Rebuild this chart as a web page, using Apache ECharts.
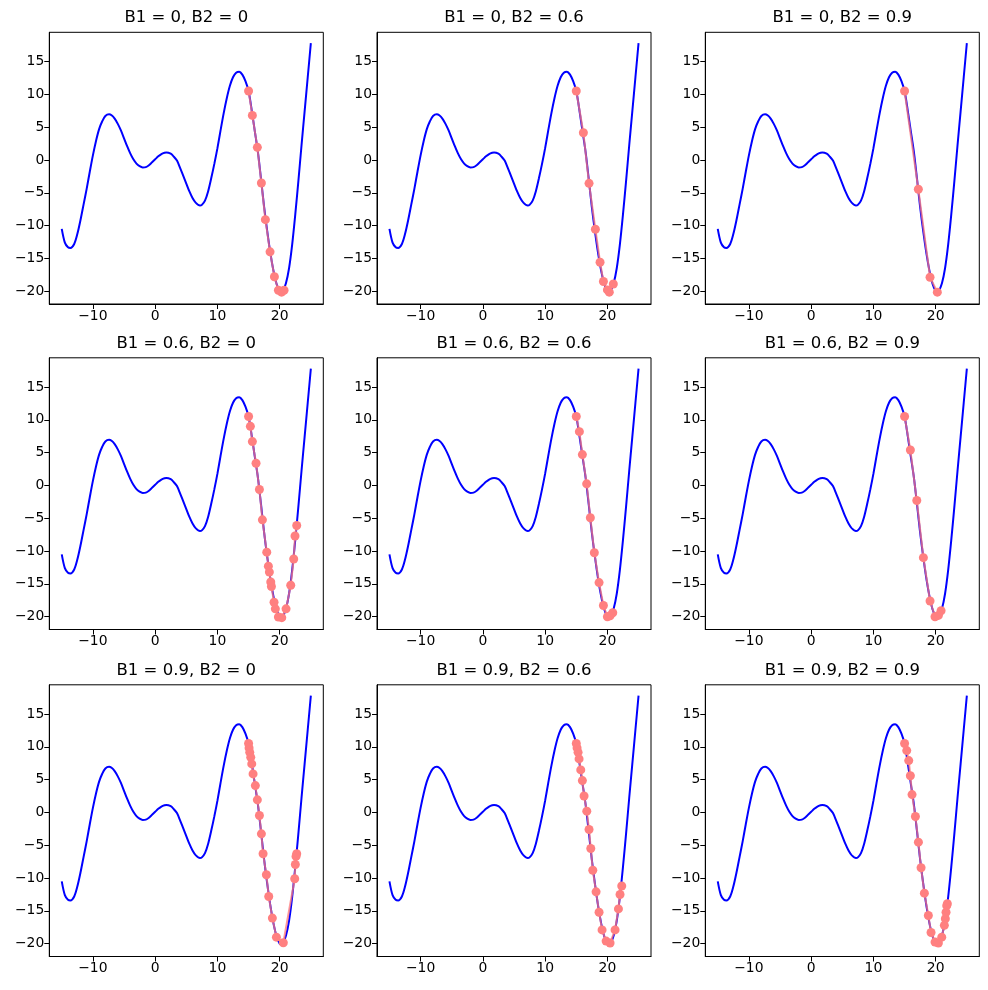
<!DOCTYPE html>
<html><head><meta charset="utf-8">
<script src="https://cdn.jsdelivr.net/npm/echarts@6/dist/echarts.min.js"></script>
<style>html,body{margin:0;padding:0;background:#fff}#c{width:988px;height:990px}</style>
</head><body><div id="c"></div>
<script>
// Blue curve
const curveX = [-15,-14.5,-14,-13.6,-13,-12.5,-12,-11.5,-11,-10.5,-10,-9.5,-9,-8.5,-8,-7.4,-7,-6.5,-6,-5.5,-5,-4.5,-4,-3.5,-3,-2.5,-2,-1.5,-1,-0.5,0,0.5,1,1.5,1.8,2.5,3,3.5,4,4.5,5,5.5,6,6.5,7.2,7.5,8,8.5,9,9.5,10,10.5,11,11.5,12,12.5,13,13.5,14,14.5,15,15.5,16,16.5,17,17.5,18,18.5,19,19.5,20,20.3,20.5,21,21.5,22,22.5,23,23.5,24,24.5,25];
const curveY = [-10.5,-12.6,-13.3,-13.4,-12.8,-11.3,-9.2,-6.8,-4.4,-1.8,0.7,2.9,4.7,5.9,6.7,6.95,6.8,6.3,5.5,4.5,3.3,2.1,1.0,0.1,-0.55,-0.95,-1.15,-1.1,-0.8,-0.35,0.1,0.55,0.9,1.1,1.15,0.95,0.5,-0.1,-1.2,-2.4,-3.6,-4.8,-5.8,-6.5,-6.95,-6.85,-6.2,-4.8,-2.8,-0.6,1.8,4.5,7.1,9.4,11.3,12.6,13.3,13.45,13.0,12.0,10.5,7.6,4.4,1.2,-2.9,-7.2,-10.9,-14.2,-16.9,-18.9,-20.0,-20.15,-20.0,-18.8,-16.5,-12.9,-8.3,-3.2,2.2,7.4,12.6,17.8];

const titles = ["B1 = 0, B2 = 0","B1 = 0, B2 = 0.6","B1 = 0, B2 = 0.9",
                "B1 = 0.6, B2 = 0","B1 = 0.6, B2 = 0.6","B1 = 0.6, B2 = 0.9",
                "B1 = 0.9, B2 = 0","B1 = 0.9, B2 = 0.6","B1 = 0.9, B2 = 0.9"];

// Optimizer trajectories
const path00X = [15.0,15.61,16.41,17.06,17.7,18.45,19.15,19.79,20.3,20.7];
const path00Y = [10.5,6.79,1.92,-3.52,-9.1,-14.0,-17.8,-19.85,-20.15,-19.85];
const path01X = [15.0,16.14,17.05,18.07,18.82,19.36,20.0,20.95,20.3];
const path01Y = [10.5,4.14,-3.56,-10.56,-15.58,-18.53,-19.8,-18.9,-20.15];
const path02X = [15.0,17.21,19.09,20.26];
const path02Y = [10.5,-4.47,-17.87,-20.15];
const path10X = [15.0,15.29,15.61,16.2,16.74,17.22,17.92,18.18,18.34,18.56,18.67,19.09,19.3,19.79,20.33,21.02,21.77,22.25,22.46,22.73];
const path10Y = [10.5,9.01,6.68,3.38,-0.62,-5.24,-10.17,-12.3,-13.2,-14.7,-15.4,-17.8,-18.8,-20.05,-20.15,-18.8,-15.2,-11.2,-7.7,-6.1];
const path11X = [15.0,15.5,15.98,16.67,17.26,17.9,18.66,19.36,20.0,20.43,20.86];
const path11Y = [10.5,8.2,4.7,0.24,-4.93,-10.26,-14.8,-18.3,-20.0,-19.85,-19.4];
const path12X = [15.0,15.93,16.96,18.02,19.09,19.89,20.43,20.86];
const path12Y = [10.5,5.4,-2.3,-11.0,-17.6,-20.0,-19.8,-19.1];
const path20X = [15.0,15.08,15.19,15.35,15.51,15.72,16.09,16.41,16.74,17.06,17.33,17.86,18.24,18.82,19.47,20.58,22.41,22.51,22.62,22.73];
const path20Y = [10.5,9.83,9.16,8.4,7.4,5.87,4.09,1.92,-0.47,-3.26,-6.3,-9.5,-12.8,-16.1,-19.0,-19.85,-10.1,-7.93,-6.7,-6.3];
const path21X = [15.0,15.13,15.29,15.45,15.72,15.98,16.25,16.69,17.05,17.33,17.65,18.18,18.66,19.14,19.79,20.43,21.23,21.77,22.03,22.3];
const path21Y = [10.5,9.83,9.16,8.16,6.48,4.85,2.5,0.2,-2.6,-5.5,-8.8,-12.1,-15.2,-17.9,-19.6,-19.9,-17.9,-14.7,-12.5,-11.2];
const path22X = [15.0,15.35,15.67,15.93,16.2,16.74,17.22,17.65,18.18,18.82,19.25,19.89,20.43,20.97,21.39,21.55,21.66,21.77,21.87];
const path22Y = [10.5,9.42,7.9,5.6,2.72,-0.62,-4.53,-8.43,-12.3,-15.7,-18.3,-19.75,-19.9,-19.0,-17.2,-16.2,-15.2,-14.2,-13.9];

const xTicks = [-10,0,10,20];
const yTicks = [-20,-15,-10,-5,0,5,10,15];

const paths = [[path00X,path00Y],[path01X,path01Y],[path02X,path02Y],
               [path10X,path10Y],[path11X,path11Y],[path12X,path12Y],
               [path20X,path20Y],[path21X,path21Y],[path22X,path22Y]];

const zip = (a,b) => a.map((v,i)=>[v,b[i]]);
const fmt = v => String(v).replace('-', '\u2212');
const FONT = 'DejaVu Sans';

const colLeft = [49.3, 377, 705.3];
const rowTop = [32.3, 357.8, 684.8];
const W = 274, H = 271.7;

const grids=[], xAxes=[], yAxes=[], series=[], title=[];
for (let i=0;i<9;i++){
  const r=Math.floor(i/3), c=i%3;
  grids.push({left:colLeft[c], top:rowTop[r], width:W, height:H, show:true, borderColor:'#000', borderWidth:1, backgroundColor:'transparent', containLabel:false});
  title.push({text:titles[i], left:colLeft[c]+W/2, top:rowTop[r]-23, textAlign:'center', padding:0,
    textStyle:{fontFamily:FONT, fontSize:16.5, fontWeight:'normal', color:'#000'}});
  xAxes.push({gridIndex:i, type:'value', min:-17, max:27,
    axisLine:{show:true, onZero:false, lineStyle:{color:'#000', width:1}},
    axisTick:{show:true, customValues:xTicks, length:5, lineStyle:{color:'#000', width:1}},
    axisLabel:{show:true, customValues:xTicks, formatter:fmt, color:'#000', fontSize:13.9, fontFamily:FONT, margin:5},
    splitLine:{show:false}, minorTick:{show:false}});
  yAxes.push({gridIndex:i, type:'value', min:-21.95, max:19.45,
    axisLine:{show:true, onZero:false, lineStyle:{color:'#000', width:1}},
    axisTick:{show:true, customValues:yTicks, length:5, lineStyle:{color:'#000', width:1}},
    axisLabel:{show:true, customValues:yTicks, formatter:fmt, color:'#000', fontSize:13.9, fontFamily:FONT, margin:5},
    splitLine:{show:false}, minorTick:{show:false}});
  series.push({type:'line', xAxisIndex:i, yAxisIndex:i, data:zip(curveX,curveY), showSymbol:false, symbol:'none',
    smooth:0.3, lineStyle:{color:'#0000ff', width:2}, clip:true, silent:true, z:2});
  series.push({type:'line', xAxisIndex:i, yAxisIndex:i, data:zip(paths[i][0],paths[i][1]),
    symbol:'circle', symbolSize:9, showSymbol:true, showAllSymbol:true,
    itemStyle:{color:'#ff8080', borderWidth:0},
    lineStyle:{color:'rgba(255,120,120,0.75)', width:2}, z:3, silent:true});
}

const chart = echarts.init(document.getElementById('c'), null, {renderer:'canvas'});
chart.setOption({animation:false, backgroundColor:'#fff', title, grid:grids, xAxis:xAxes, yAxis:yAxes, series});
</script>
</body></html>
